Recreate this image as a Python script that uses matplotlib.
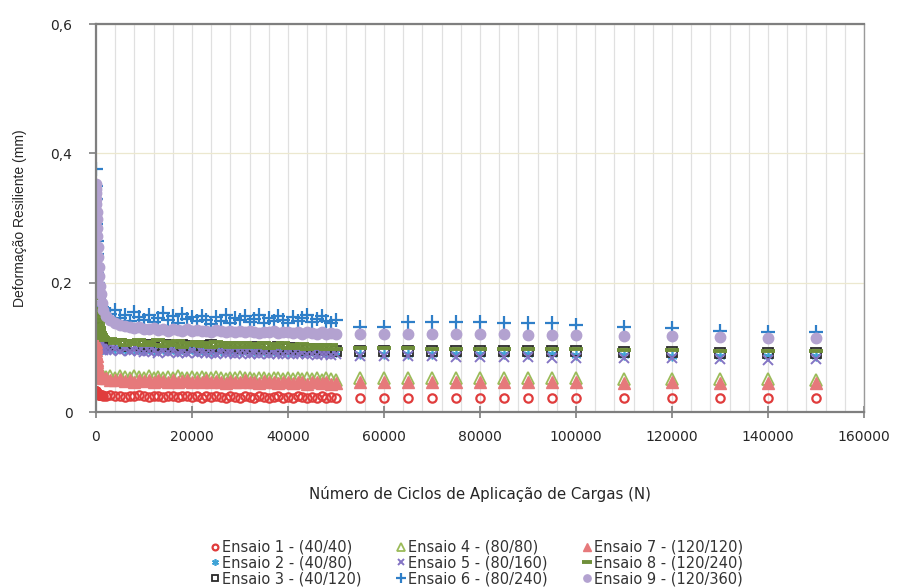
import matplotlib
matplotlib.use("Agg")
import matplotlib.pyplot as plt
from matplotlib.ticker import FixedLocator

plt.rcParams['font.family'] = ['DejaVu Sans']

# ---------------- data ----------------
x_dense = [0, 25, 50, 75, 100, 150, 200, 250, 300, 400, 500, 600, 700, 850, 1000, 1250, 1500, 2000,
           3000, 4000, 5000, 6000, 7000, 8000, 9000, 10000,
           11000, 12000, 13000, 14000, 15000, 16000, 17000, 18000, 19000, 20000,
           21000, 22000, 23000, 24000, 25000, 26000, 27000, 28000, 29000, 30000,
           31000, 32000, 33000, 34000, 35000, 36000, 37000, 38000, 39000, 40000,
           41000, 42000, 43000, 44000, 45000, 46000, 47000, 48000, 49000, 50000]
x_sparse = [55000, 60000, 65000, 70000, 75000, 80000, 85000, 90000, 95000, 100000,
            110000, 120000, 130000, 140000, 150000]

ens1_dense = [0.033, 0.032, 0.032, 0.031, 0.031, 0.030, 0.030, 0.029, 0.029, 0.028, 0.028, 0.027,
              0.027, 0.026, 0.026, 0.026, 0.025, 0.025,
              0.026, 0.024, 0.025, 0.023, 0.025, 0.024, 0.026, 0.024,
              0.023, 0.025, 0.024, 0.023, 0.025, 0.024, 0.023, 0.025, 0.024, 0.023,
              0.024, 0.022, 0.024, 0.023, 0.025, 0.023, 0.022, 0.024, 0.023, 0.022,
              0.024, 0.023, 0.022, 0.024, 0.023, 0.022, 0.023, 0.024, 0.022, 0.023,
              0.022, 0.024, 0.023, 0.022, 0.023, 0.022, 0.024, 0.022, 0.023, 0.022]
ens1_sparse = [0.022, 0.022, 0.022, 0.022, 0.022, 0.022, 0.022, 0.022, 0.022, 0.022,
               0.021, 0.022, 0.021, 0.022, 0.022]

ens2_dense = [0.145, 0.138, 0.132, 0.126, 0.120, 0.114, 0.109, 0.105, 0.102, 0.100, 0.099, 0.098,
              0.098, 0.097, 0.097, 0.097, 0.097, 0.097,
              0.098, 0.097, 0.099, 0.096, 0.098, 0.097, 0.098, 0.096,
              0.097, 0.096, 0.098, 0.097, 0.096, 0.097, 0.095, 0.097, 0.096, 0.097,
              0.095, 0.096, 0.097, 0.095, 0.096, 0.095, 0.097, 0.095, 0.096, 0.094,
              0.096, 0.095, 0.094, 0.096, 0.095, 0.094, 0.095, 0.094, 0.095, 0.093,
              0.095, 0.094, 0.093, 0.095, 0.094, 0.093, 0.094, 0.093, 0.094, 0.093]
ens2_sparse = [0.090, 0.090, 0.090, 0.090, 0.089, 0.089, 0.089, 0.089, 0.089, 0.088,
               0.088, 0.087, 0.087, 0.086, 0.086]

ens3_dense = [0.160, 0.155, 0.150, 0.146, 0.142, 0.137, 0.132, 0.128, 0.124, 0.120, 0.116, 0.113,
              0.111, 0.109, 0.108, 0.107, 0.106, 0.105,
              0.104, 0.103, 0.105, 0.102, 0.104, 0.103, 0.104, 0.102,
              0.103, 0.101, 0.103, 0.102, 0.103, 0.101, 0.102, 0.104, 0.101, 0.102,
              0.100, 0.102, 0.101, 0.103, 0.100, 0.101, 0.099, 0.101, 0.100, 0.099,
              0.101, 0.099, 0.100, 0.098, 0.100, 0.099, 0.098, 0.100, 0.098, 0.097,
              0.099, 0.097, 0.098, 0.096, 0.098, 0.097, 0.096, 0.097, 0.096, 0.095]
ens3_sparse = [0.095, 0.095, 0.095, 0.095, 0.095, 0.095, 0.094, 0.094, 0.094, 0.094,
               0.093, 0.093, 0.092, 0.092, 0.092]

ens4_dense = [0.075, 0.072, 0.070, 0.068, 0.066, 0.064, 0.062, 0.061, 0.060, 0.059, 0.058, 0.057,
              0.057, 0.056, 0.056, 0.055, 0.055, 0.054,
              0.055, 0.053, 0.056, 0.054, 0.053, 0.055, 0.054, 0.053,
              0.055, 0.053, 0.054, 0.052, 0.054, 0.053, 0.055, 0.052, 0.053, 0.054,
              0.052, 0.054, 0.053, 0.052, 0.054, 0.053, 0.051, 0.053, 0.052, 0.054,
              0.052, 0.053, 0.051, 0.053, 0.052, 0.051, 0.053, 0.052, 0.051, 0.052,
              0.051, 0.053, 0.051, 0.052, 0.051, 0.052, 0.050, 0.052, 0.051, 0.050]
ens4_sparse = [0.052, 0.052, 0.052, 0.052, 0.052, 0.052, 0.052, 0.052, 0.052, 0.052,
               0.051, 0.051, 0.051, 0.051, 0.050]

ens5_dense = [0.130, 0.127, 0.124, 0.121, 0.118, 0.114, 0.111, 0.108, 0.106, 0.104, 0.102, 0.100,
              0.099, 0.098, 0.097, 0.097, 0.096, 0.096,
              0.096, 0.098, 0.095, 0.097, 0.094, 0.096, 0.095, 0.093,
              0.095, 0.094, 0.092, 0.095, 0.093, 0.094, 0.092, 0.093, 0.091, 0.094,
              0.092, 0.093, 0.091, 0.092, 0.090, 0.093, 0.091, 0.092, 0.090, 0.091,
              0.092, 0.090, 0.091, 0.089, 0.091, 0.090, 0.092, 0.089, 0.090, 0.091,
              0.089, 0.090, 0.091, 0.089, 0.090, 0.088, 0.090, 0.089, 0.088, 0.089]
ens5_sparse = [0.086, 0.086, 0.086, 0.086, 0.085, 0.085, 0.085, 0.085, 0.084, 0.084,
               0.083, 0.083, 0.082, 0.081, 0.082]

ens6_dense = [0.376, 0.350, 0.330, 0.310, 0.290, 0.265, 0.245, 0.228, 0.215, 0.200, 0.190, 0.182,
              0.176, 0.170, 0.165, 0.162, 0.160, 0.157,
              0.152, 0.158, 0.146, 0.150, 0.141, 0.155, 0.147, 0.143,
              0.150, 0.139, 0.146, 0.153, 0.142, 0.148, 0.138, 0.151, 0.144, 0.147,
              0.140, 0.149, 0.143, 0.136, 0.147, 0.141, 0.150, 0.138, 0.145, 0.142,
              0.148, 0.139, 0.144, 0.150, 0.137, 0.146, 0.141, 0.149, 0.143, 0.138,
              0.147, 0.140, 0.145, 0.150, 0.139, 0.144, 0.148, 0.141, 0.138, 0.143]
ens6_sparse = [0.131, 0.131, 0.139, 0.139, 0.139, 0.139, 0.138, 0.137, 0.137, 0.134,
               0.131, 0.130, 0.126, 0.124, 0.124]

ens7_dense = [0.108, 0.104, 0.100, 0.096, 0.092, 0.086, 0.081, 0.077, 0.073, 0.068, 0.064, 0.061,
              0.059, 0.057, 0.055, 0.054, 0.053, 0.052,
              0.050, 0.049, 0.051, 0.048, 0.050, 0.047, 0.049, 0.048,
              0.050, 0.047, 0.049, 0.048, 0.046, 0.049, 0.047, 0.048, 0.050, 0.046,
              0.048, 0.047, 0.049, 0.046, 0.048, 0.047, 0.045, 0.048, 0.046, 0.047,
              0.049, 0.046, 0.047, 0.045, 0.048, 0.046, 0.047, 0.045, 0.047, 0.046,
              0.045, 0.047, 0.046, 0.044, 0.046, 0.047, 0.045, 0.046, 0.044, 0.045]
ens7_sparse = [0.046, 0.046, 0.046, 0.046, 0.046, 0.046, 0.046, 0.046, 0.046, 0.046,
               0.045, 0.046, 0.045, 0.045, 0.045]

ens8_dense = [0.205, 0.198, 0.190, 0.183, 0.176, 0.168, 0.160, 0.153, 0.147, 0.140, 0.135, 0.130,
              0.126, 0.122, 0.119, 0.116, 0.114, 0.112,
              0.113, 0.106, 0.111, 0.104, 0.110, 0.105, 0.112, 0.103,
              0.109, 0.104, 0.111, 0.102, 0.108, 0.104, 0.110, 0.101, 0.107, 0.103,
              0.109, 0.102, 0.106, 0.101, 0.108, 0.102, 0.107, 0.100, 0.106, 0.101,
              0.107, 0.100, 0.105, 0.101, 0.106, 0.099, 0.105, 0.100, 0.106, 0.099,
              0.104, 0.099, 0.105, 0.098, 0.104, 0.099, 0.103, 0.098, 0.104, 0.098]
ens8_sparse = [0.099, 0.099, 0.099, 0.098, 0.098, 0.098, 0.098, 0.097, 0.097, 0.097,
               0.096, 0.096, 0.095, 0.095, 0.095]

ens9_dense = [0.352, 0.345, 0.338, 0.330, 0.322, 0.310, 0.298, 0.285, 0.272, 0.255, 0.240, 0.225,
              0.210, 0.195, 0.182, 0.168, 0.158, 0.148,
              0.142, 0.138, 0.135, 0.133, 0.131, 0.130, 0.131, 0.129,
              0.128, 0.130, 0.127, 0.129, 0.126, 0.128, 0.127, 0.125, 0.128, 0.126,
              0.127, 0.125, 0.126, 0.124, 0.127, 0.125, 0.124, 0.126, 0.124, 0.125,
              0.123, 0.125, 0.124, 0.122, 0.124, 0.123, 0.125, 0.122, 0.123, 0.124,
              0.122, 0.123, 0.121, 0.123, 0.122, 0.121, 0.123, 0.121, 0.122, 0.120]
ens9_sparse = [0.121, 0.121, 0.121, 0.120, 0.120, 0.120, 0.120, 0.119, 0.119, 0.119,
               0.118, 0.117, 0.116, 0.115, 0.115]

labels = ["Ensaio 1 - (40/40)", "Ensaio 2 - (40/80)", "Ensaio 3 - (40/120)",
          "Ensaio 4 - (80/80)", "Ensaio 5 - (80/160)", "Ensaio 6 - (80/240)",
          "Ensaio 7 - (120/120)", "Ensaio 8 - (120/240)", "Ensaio 9 - (120/360)"]

x_ticks = [0, 20000, 40000, 60000, 80000, 100000, 120000, 140000, 160000]
x_tick_labels = ["0", "20000", "40000", "60000", "80000", "100000", "120000", "140000", "160000"]
y_ticks = [0, 0.2, 0.4, 0.6]
y_tick_labels = ["0", "0,2", "0,4", "0,6"]

# ---------------- styles ----------------
series = [
    (ens1_dense, ens1_sparse, dict(marker='o', mfc='none', mec='#e03c3c', mew=1.6, ms=6)),
    (ens2_dense, ens2_sparse, dict(marker=(6, 2, 0), mfc='#3fa3d6', mec='#3fa3d6', mew=1.2, ms=7)),
    (ens3_dense, ens3_sparse, dict(marker='s', mfc='none', mec='#2a2a2a', mew=1.3, ms=7)),
    (ens4_dense, ens4_sparse, dict(marker='^', mfc='none', mec='#9bbb59', mew=1.3, ms=8)),
    (ens5_dense, ens5_sparse, dict(marker='x', mfc='#8474c4', mec='#8474c4', mew=1.4, ms=7)),
    (ens6_dense, ens6_sparse, dict(marker='+', mfc='#2f7fc8', mec='#2f7fc8', mew=1.6, ms=10)),
    (ens7_dense, ens7_sparse, dict(marker='^', mfc='#e6797b', mec='#e6797b', mew=1.0, ms=8)),
    (ens8_dense, ens8_sparse, dict(marker='_', mfc='#6f8f3a', mec='#6f8f3a', mew=2.8, ms=10)),
    (ens9_dense, ens9_sparse, dict(marker='o', mfc='#b3a2d0', mec='#b3a2d0', mew=1.0, ms=7.5)),
]

fig = plt.figure(figsize=(9.04, 5.88), dpi=100)
ax = fig.add_axes([96 / 904, 1 - 412 / 588, 768 / 904, 388 / 588])

handles = []
for (yd, ys, st), lab in zip(series, labels):
    xs = x_dense + x_sparse
    yv = yd + ys
    h, = ax.plot(xs, yv, linestyle='none', label=lab, **st)
    handles.append(h)

ax.set_xlim(0, 160000)
ax.set_ylim(0, 0.6)

# grid
ax.xaxis.set_minor_locator(FixedLocator(list(range(4000, 160000, 4000))))
ax.grid(which='minor', axis='x', color='#e0e0e0', linewidth=0.9)
ax.grid(which='major', axis='x', color='#e0e0e0', linewidth=0.9)
ax.grid(which='major', axis='y', color='#ece8cf', linewidth=0.9)
ax.set_axisbelow(True)

ax.set_xticks(x_ticks)
ax.set_xticklabels(x_tick_labels)
ax.set_yticks(y_ticks)
ax.set_yticklabels(y_tick_labels)
ax.tick_params(axis='x', which='major', direction='inout', length=8, width=1.2,
               color='#7f7f7f', labelsize=10, labelcolor='#262626', pad=9)
ax.tick_params(axis='x', which='minor', length=0)
ax.tick_params(axis='y', direction='out', length=5, width=1.2, color='#7f7f7f',
               labelsize=10, labelcolor='#262626', pad=12)

for side in ['left', 'bottom', 'top']:
    ax.spines[side].set_color('#7f7f7f')
    ax.spines[side].set_linewidth(1.6)
ax.spines['right'].set_color('#9a9a9a')
ax.spines['right'].set_linewidth(1.0)

ax.set_xlabel("Número de Ciclos de Aplicação de Cargas (N)", fontsize=10.8, color='#262626')
ax.set_ylabel("Deformação Resiliente (mm)", fontsize=10, color='#262626',
              family=['Liberation Sans', 'DejaVu Sans'])
ax.xaxis.set_label_coords(0.5, (412 - 486) / 388)
ax.yaxis.set_label_coords((27 - 96) / 768, 0.5)

leg = fig.legend(handles=handles, labels=labels, ncol=3, loc='center',
                 bbox_to_anchor=(477 / 904, 1 - 563 / 588), frameon=False,
                 fontsize=10.5, handlelength=0.6, handletextpad=0.2,
                 columnspacing=2.4, labelspacing=0.05, markerscale=0.7,
                 borderpad=0.1)
for t in leg.get_texts():
    t.set_color('#333333')

fig.savefig("out.png", dpi=100)
